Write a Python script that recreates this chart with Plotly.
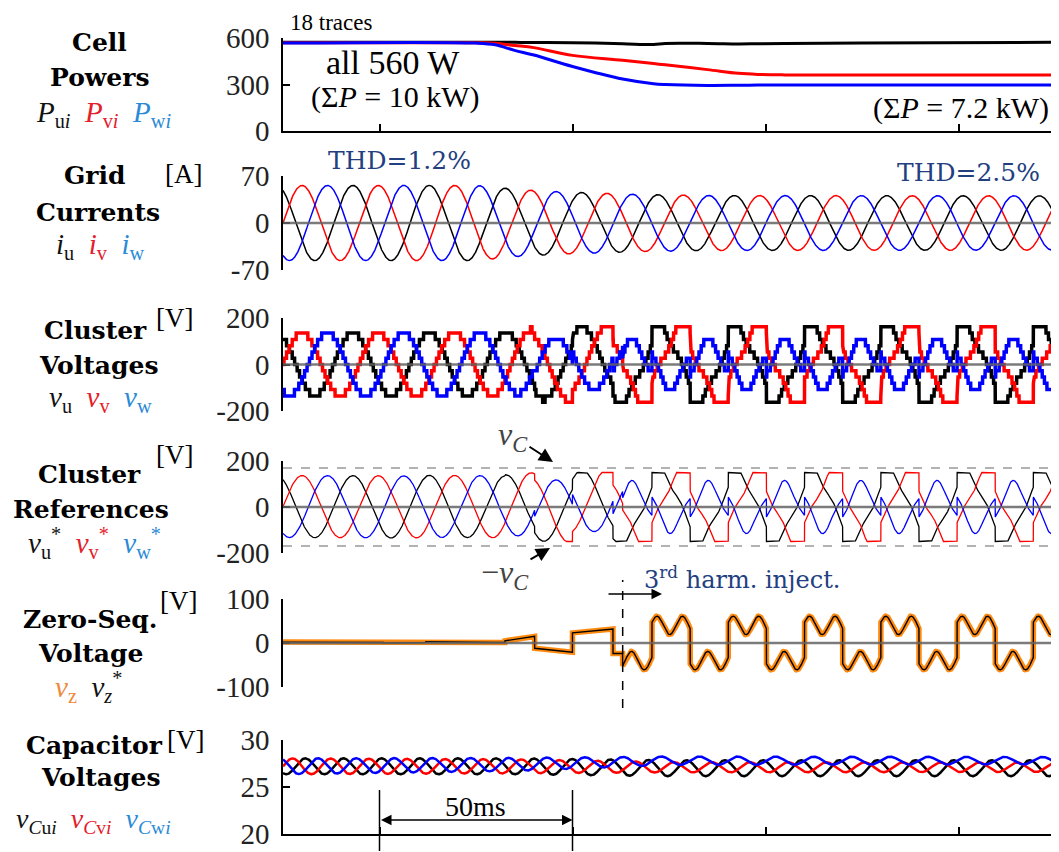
import numpy as np
import plotly.graph_objects as go

W, H = 1059, 852
OX, OY = 8, 8   # page body offset of the rendered figure

# ---------------- values ----------------
T_END_MS = 200
PERIOD_MS = 19.76          # fundamental period
PHASE0_DEG = 30            # phase of u at t = 0
X_TICKS = [25, 75, 125, 175]

# Panel 1 - cell powers [W]
pow_t = [0, 50, 55, 60, 65, 75, 88, 96, 99, 110, 118, 123, 130, 150, 200]
pow_u = [573, 573, 573, 572, 571, 570, 563, 558, 565, 565, 562, 563, 564, 568, 572]
pow_v = [569, 569, 566, 552, 538, 488, 457, 435, 427, 396, 372, 365, 362, 361, 361]
pow_w = [567, 567, 556, 520, 490, 416, 335, 305, 300, 294, 295, 296, 297, 297, 297]

# Panel 2 - grid current amplitude envelope [A]
cur_env_t = [0, 50, 61, 70, 80, 90, 100, 110, 200]
cur_env_a = [56, 56, 50, 47, 45, 43, 42, 41, 40.5]

# Panels 3/4 - cluster voltages [V]
V_PHASE_AMP = 135
V_CLIP = 150
V_CELL_STEP = 27
V_C_LIMIT = 170

# Panel 5 - zero-sequence voltage reference [V]
vz_t0 = [0, 26, 37, 57.5, 65.2, 75.0, 85.5]
vz_t1 = [26, 37, 57.5, 65.2, 75.0, 85.5, 88.0]
vz_v0 = [2, 0, 3, 5, -12, 23, -24]
vz_v1 = [1, 1, 1, 15, -21, 32, -24]
INJECT_T = 88.0
SQ_EDGE_T = 95.6
SQ_AMP = 40
H3_AMP = 21
H3_PHASE_DEG = 20

# Panel 6 - capacitor voltages [V]
cap_t = [0, 60, 100, 200]
cap_mean_u = [27.2, 27.2, 27.0, 27.0]
cap_mean_v = [27.2, 27.2, 27.1, 27.1]
cap_mean_w = [27.2, 27.4, 27.8, 27.8]
cap_rip_u = [0.85, 0.85, 0.85, 0.85]
cap_rip_v = [0.85, 0.75, 0.55, 0.5]
cap_rip_w = [0.85, 0.7, 0.45, 0.4]

# ---------------- waveform synthesis ----------------
t = np.linspace(0, T_END_MS, 8001)
th_u = 2 * np.pi * t / PERIOD_MS + np.radians(PHASE0_DEG)
th = [th_u, th_u - 2 * np.pi / 3, th_u + 2 * np.pi / 3]

env = np.interp(t, cur_env_t, cur_env_a)
i_ph = [env * np.cos(a) for a in th]

vz = np.zeros_like(t)
for a0, a1, b0, b1 in zip(vz_t0, vz_t1, vz_v0, vz_v1):
    m = (t >= a0) & (t < a1)
    vz[m] = b0 + (b1 - b0) * (t[m] - a0) / (a1 - a0)
phi = 2 * np.pi * (t - SQ_EDGE_T) / PERIOD_MS
m = t >= INJECT_T
vz[m] = SQ_AMP * np.sign(np.sin(phi[m])) + H3_AMP * np.sin(3 * phi[m] + np.radians(H3_PHASE_DEG))

ref = [np.clip(V_PHASE_AMP * np.cos(a) + vz, -V_CLIP, V_CLIP) for a in th]
clu = [np.round(r / V_CELL_STEP) * V_CELL_STEP for r in ref]

cap = []
for mean, rip, a in zip([cap_mean_u, cap_mean_v, cap_mean_w], [cap_rip_u, cap_rip_v, cap_rip_w], th):
    cap.append(np.interp(t, cap_t, mean) - np.interp(t, cap_t, rip) * np.sin(2 * a))

# ---------------- figure ----------------
COL = ["#000000", "#ff0000", "#0000ff"]
LEG = ["#111111", "#e4202a", "#2b8ad6"]
SERIF = "Liberation Serif"
TITLE = "DejaVu Serif"
BLUE_TXT = "#22407f"


def PX(x):
    return (x - OX) / W


def PY(y):
    return 1 - (y - OY) / H


X0, X1 = 283, 1055
PXMS = (X1 - X0) / T_END_MS
panels = [  # (top px, bottom px, range, tickvals, ticktext)
    (38, 131, [0, 600], [0, 300, 600], ["0", "300", "600"]),
    (176, 270, [-70, 70], [-70, 0, 70], ["-70", "0", "70"]),
    (318, 411, [-200, 200], [-200, 0, 200], ["-200", "0", "200"]),
    (461, 553, [-200, 200], [-200, 0, 200], ["-200", "0", "200"]),
    (599, 687, [-100, 100], [-100, 0, 100], ["-100", "0", "100"]),
    (740, 834, [20, 30], [20, 25, 30], ["20", "25", "30"]),
]

fig = go.Figure()


def add(i, y, color, width):
    fig.add_trace(go.Scatter(x=t, y=y, mode="lines", line=dict(color=color, width=width),
                             xaxis="x" if i == 1 else f"x{i}", yaxis="y" if i == 1 else f"y{i}",
                             hoverinfo="skip"))


for k, p in enumerate([pow_u, pow_v, pow_w]):
    fig.add_trace(go.Scatter(x=pow_t, y=p, mode="lines", line=dict(color=COL[k], width=3, shape="spline"),
                             hoverinfo="skip"))
for k in range(3):
    add(2, i_ph[k], COL[k], 1.5)
for k in range(3):
    add(3, clu[k], COL[k], 3.5)
for k in range(3):
    add(4, ref[k], COL[k], 1.3)
add(5, vz, "#ff8a10", 5.5)
add(5, vz, "#000000", 1.4)
for k in range(3):
    add(6, cap[k], COL[k], 2.5)

lay = dict(template="none", width=W, height=H, autosize=False,
           margin=dict(l=0, r=0, t=0, b=0, pad=0, autoexpand=False), plot_bgcolor="white",
           paper_bgcolor="white", showlegend=False, hovermode=False)
for i, (top, bot, rng, tv, tt) in enumerate(panels, start=1):
    xs = "xaxis" if i == 1 else f"xaxis{i}"
    ys = "yaxis" if i == 1 else f"yaxis{i}"
    edge = i in (1, 6)
    lay[xs] = dict(domain=[PX(X0), PX(X1)], range=[0, T_END_MS], anchor="y" if i == 1 else f"y{i}",
                   showline=edge, linecolor="black", linewidth=1.5, ticks="inside" if edge else "",
                   tickvals=X_TICKS if edge else [], ticklen=7, tickwidth=1.5, tickcolor="black",
                   showticklabels=False, showgrid=False, zeroline=False, automargin=False)
    if i > 1:
        lay[xs]["matches"] = "x"
    lay[ys] = dict(domain=[PY(bot), PY(top)], range=rng, anchor="x" if i == 1 else f"x{i}",
                   showline=True, linecolor="black", linewidth=1.5, ticks="inside", ticklen=7,
                   tickwidth=1.5, tickcolor="black", tickvals=tv, ticktext=tt,
                   tickfont=dict(family=SERIF, size=29, color="#222"), ticklabelstandoff=6,
                   showgrid=False, zeroline=False, automargin=False)
fig.update_layout(**lay)

shapes = []
for i in (2, 3, 4, 5):
    shapes.append(dict(type="line", xref=f"x{i} domain", yref=f"y{i}", x0=0, x1=1, y0=0, y1=0,
                       line=dict(color="rgba(100,100,100,0.85)", width=2.5), layer="above"))
for s in (1, -1):
    shapes.append(dict(type="line", xref="x4 domain", yref="y4", x0=0, x1=1, y0=s * V_C_LIMIT,
                       y1=s * V_C_LIMIT, line=dict(color="#999", width=1.5, dash="dash")))
shapes.append(dict(type="line", xref="x5", yref="paper", x0=INJECT_T, x1=INJECT_T,
                   y0=PY(708), y1=PY(580), line=dict(color="black", width=1.5, dash="dash")))
for tx in X_TICKS[:2]:
    shapes.append(dict(type="line", xref="x6", yref="paper", x0=tx, x1=tx, y0=PY(851),
                       y1=PY(790), line=dict(color="black", width=1.5)))
fig.update_layout(shapes=shapes)


def txt(x, y, s, size=25, fam=TITLE, color="black", xa="center", ya="middle", **kw):
    fig.add_annotation(x=PX(x), y=PY(y), xref="paper", yref="paper", text=s, showarrow=False,
                       xanchor=xa, yanchor=ya, font=dict(family=fam, size=size, color=color), **kw)


def legend(x, y, items, size=25, cols=LEG):
    s = "&nbsp;&nbsp;".join(f"<span style='color:{cols[k]}'>{it}</span>" for k, it in enumerate(items))
    txt(x, y, s, size=size, fam=SERIF)


# left-side titles
txt(99, 42, "<b>Cell</b>")
txt(99, 78, "<b>Powers</b>")
legend(103, 114, ["<i>P</i><sub>u<i>i</i></sub>", "<i>P</i><sub>v<i>i</i></sub>", "<i>P</i><sub>w<i>i</i></sub>"], 29)

txt(95, 176, "<b>Grid</b>")
txt(183, 174, "[A]", size=27, fam=SERIF)
txt(98, 212, "<b>Currents</b>")
legend(100, 246, ["<i>i</i><sub>u</sub>", "<i>i</i><sub>v</sub>", "<i>i</i><sub>w</sub>"], 29)

txt(95, 330, "<b>Cluster</b>")
txt(174, 318, "[V]", size=27, fam=SERIF)
txt(98, 366, "<b>Voltages</b>")
legend(100, 399, ["<i>v</i><sub>u</sub>", "<i>v</i><sub>v</sub>", "<i>v</i><sub>w</sub>"], 29)

txt(89, 474, "<b>Cluster</b>")
txt(174, 455, "[V]", size=27, fam=SERIF)
txt(91, 510, "<b>References</b>")
legend(94, 543, ["<i>v</i><sub>u</sub><sup>*</sup>", "<i>v</i><sub>v</sub><sup>*</sup>", "<i>v</i><sub>w</sub><sup>*</sup>"], 29)

txt(90, 619, "<b>Zero-Seq.</b>")
txt(178, 601, "[V]", size=27, fam=SERIF)
txt(90, 653, "<b>Voltage</b>")
legend(88, 687, ["<i>v</i><sub>z</sub>", "<i>v</i><sub><i>z</i></sub><sup>*</sup>"], 29,
       cols=["#f0883a", "#111111"])

txt(94, 745, "<b>Capacitor</b>")
txt(185, 740, "[V]", size=27, fam=SERIF)
txt(100, 777, "<b>Voltages</b>")
legend(93, 820, ["<i>v</i><sub><i>C</i>u<i>i</i></sub>", "<i>v</i><sub><i>C</i>v<i>i</i></sub>",
                 "<i>v</i><sub><i>C</i>w<i>i</i></sub>"], 28)

# in-plot text
txt(289, 9, "18 traces", size=23, fam=SERIF, xa="left", ya="top", borderpad=0)
txt(393, 63, "all 560 W", size=34, fam=SERIF)
txt(395, 97, "(Σ<i>P</i> = 10 kW)", size=30, fam=SERIF)
txt(1051, 108, "(Σ<i>P</i> = 7.2 kW)", size=30, fam=SERIF, xa="right")
txt(399, 160, "THD=1.2%", size=25, color=BLUE_TXT)
txt(968, 172, "THD=2.5%", size=25, color=BLUE_TXT)
txt(642, 578, "3<sup>rd</sup> harm. inject.", size=24, color=BLUE_TXT, xa="left")
txt(475, 806, "50ms", size=28, fam=SERIF)

# arrows
fig.add_annotation(x=PX(553), y=PY(462), xref="paper", yref="paper", ax=-40, ay=-26,
                   text="<i>v<sub>C</sub></i>", showarrow=True, arrowhead=2, arrowsize=1.4,
                   arrowwidth=2, arrowcolor="black", font=dict(family=SERIF, size=32))
fig.add_annotation(x=PX(550), y=PY(548), xref="paper", yref="paper", ax=-45, ay=26,
                   text="−<i>v<sub>C</sub></i>", showarrow=True, arrowhead=2, arrowsize=1.4,
                   arrowwidth=2, arrowcolor="black", font=dict(family=SERIF, size=32))
fig.add_annotation(x=PX(662), y=PY(594), xref="paper", yref="paper", ax=-55, ay=0, text="",
                   showarrow=True, arrowhead=2, arrowsize=1.4, arrowwidth=1.5, arrowcolor="black")
fig.add_annotation(x=X_TICKS[1], y=PY(820), xref="x6", yref="paper",
                   ax=-(X_TICKS[1] - X_TICKS[0]) * PXMS, ay=0, text="", showarrow=True,
                   arrowhead=2, startarrowhead=2, arrowside="end+start", arrowsize=1.4,
                   arrowwidth=1.5, arrowcolor="black")

fig.write_html("out.html")
